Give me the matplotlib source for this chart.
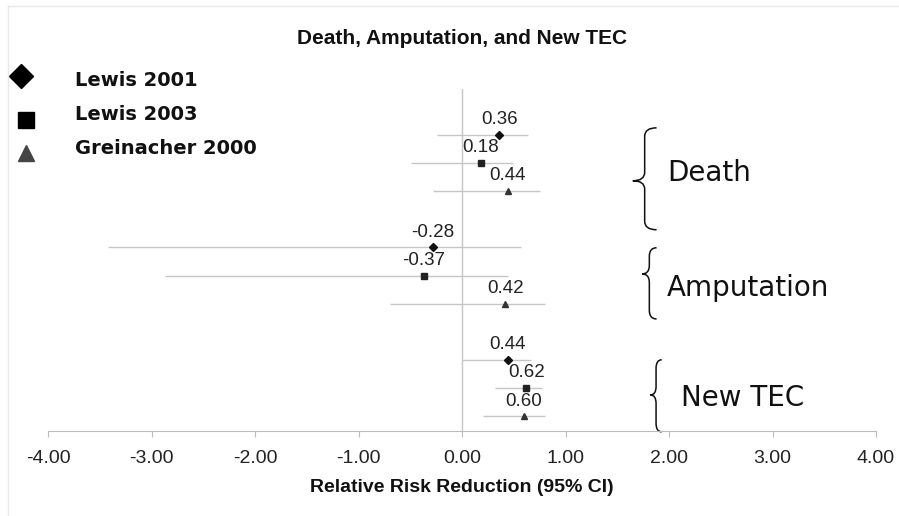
import numpy as np
import matplotlib.pyplot as plt
from matplotlib.path import Path
from matplotlib.patches import PathPatch
from matplotlib.lines import Line2D

studies = ["Lewis 2001", "Lewis 2003", "Greinacher 2000"]
outcomes = ["Death", "Amputation", "New TEC"]

death_rrr = [0.36, 0.18, 0.44]
death_lo = [-0.24, -0.49, -0.28]
death_hi = [0.64, 0.49, 0.75]

amput_rrr = [-0.28, -0.37, 0.42]
amput_lo = [-3.42, -2.87, -0.70]
amput_hi = [0.57, 0.44, 0.80]

tec_rrr = [0.44, 0.62, 0.60]
tec_lo = [0.00, 0.32, 0.20]
tec_hi = [0.67, 0.77, 0.80]

xticks = [-4, -3, -2, -1, 0, 1, 2, 3, 4]

markers = ['D', 's', '^']
mcolors = ['#111111', '#222222', '#333333']
msizes = [3.6, 4.5, 5]

fig = plt.figure(figsize=(8.99, 5.16), dpi=100)
ax = fig.add_axes([48 / 899, 1 - 431 / 516, 828 / 899, (431 - 89) / 516])

groups = [(death_rrr, death_lo, death_hi),
          (amput_rrr, amput_lo, amput_hi),
          (tec_rrr, tec_lo, tec_hi)]

gray = '#c6c6c6'
ax.axvline(0, color=gray, lw=1)

for g, (vals, lo, hi) in enumerate(groups):
    for i in range(3):
        y = g * 4 + i
        ax.hlines(y, lo[i], hi[i], color=gray, lw=1)
        ax.plot(vals[i], y, marker=markers[i], color=mcolors[i], ms=msizes[i], ls='none')
        ax.annotate(f"{vals[i]:.2f}", (vals[i], y), xytext=(0, 11), textcoords='offset points',
                    ha='center', va='center', fontsize=13.5, color='#222222',
                    family='Liberation Sans')

ax.set_xlim(-4, 4)
ax.set_ylim(10.52, -1.63)
ax.set_xticks(xticks)
ax.set_xticklabels([f"{t:.2f}" for t in xticks], family='Liberation Sans', fontsize=14, color='#222222')
ax.set_yticks([])
for s in ['left', 'right', 'top']:
    ax.spines[s].set_visible(False)
ax.spines['bottom'].set_color('#bbbbbb')
ax.tick_params(axis='x', length=4, color='#bbbbbb', pad=10)

# braces + group labels
def brace(ax, xt, xr, y0, y1, ym):
    xm = (xt + xr) / 2
    ry = 0.3
    verts = [(xr, y0), (xm, y0), (xm, y0 + ry),
             (xm, ym - ry), (xm, ym), (xt, ym),
             (xm, ym), (xm, ym + ry),
             (xm, y1 - ry), (xm, y1), (xr, y1)]
    codes = [Path.MOVETO, Path.CURVE3, Path.CURVE3,
             Path.LINETO, Path.CURVE3, Path.CURVE3,
             Path.CURVE3, Path.CURVE3,
             Path.LINETO, Path.CURVE3, Path.CURVE3]
    ax.add_patch(PathPatch(Path(verts, codes), fill=False, lw=1.1, color='#111111', clip_on=False))

brace_spec = [(1.65, 1.88, -0.25, 3.37, 1.63, 1.98, 1.35),
              (1.74, 1.88, 4.01, 6.54, 4.94, 1.98, 5.45),
              (1.82, 1.93, 7.99, 10.55, 9.24, 2.12, 9.35)]
for name, (xt, xr, y0, y1, ym, tx, ty) in zip(outcomes, brace_spec):
    brace(ax, xt, xr, y0, y1, ym)
    ax.text(tx, ty, name, fontsize=20, va='center', ha='left', color='#111111', family='DejaVu Sans')

# title and x label
fig.text(462 / 899, 1 - 38 / 516, "Death, Amputation, and New TEC", ha='center', va='center',
         fontsize=15, fontweight='bold', family='Liberation Sans', color='#111111')
fig.text(462 / 899, 1 - 488 / 516, "Relative Risk Reduction (95% CI)", ha='center', va='center',
         fontsize=14, fontweight='bold', family='Liberation Sans', color='#111111')

# legend
leg_mk = [(21, 76, 12.5), (26, 120, 11), (26, 153, 11.5)]
leg_tx = [80, 115, 148]
for i, name in enumerate(studies):
    mx, my, ms = leg_mk[i]
    fig.add_artist(Line2D([mx / 899], [1 - my / 516], marker=markers[i], ms=ms,
                          color='#000000' if i < 2 else '#444444', ls='none'))
    fig.text(75 / 899, 1 - leg_tx[i] / 516, name, ha='left', va='center', fontsize=14,
             fontweight='bold', family='DejaVu Sans', color='#111111')

# faint frame
fig.add_artist(Line2D([8 / 899, 8 / 899], [0, 1 - 6 / 516], color='#e8e8e8', lw=1))
fig.add_artist(Line2D([8 / 899, 1], [1 - 6 / 516, 1 - 6 / 516], color='#e8e8e8', lw=1))

fig.savefig('out.png', dpi=100)
